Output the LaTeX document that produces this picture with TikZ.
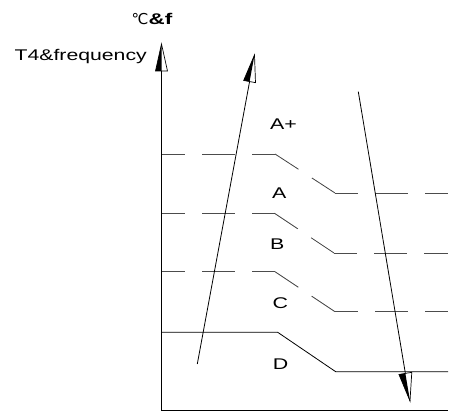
\documentclass[tikz,border=0pt]{standalone}
\usepackage{fontspec}
\setmainfont{Liberation Sans}
\newfontfamily\symfont{DejaVu Sans}
\usetikzlibrary{calc}
\begin{document}
\begin{tikzpicture}[x=1pt,y=-1pt,
  lbl/.style={inner sep=0pt, anchor=base west, font=\fontsize{15.5}{18}\selectfont},
  axisline/.style={line width=0.9pt},
  lvl/.style={line width=0.8pt, black!70, dash pattern=on 33pt off 17pt, dash phase=10pt},
  slantlvl/.style={line width=0.8pt, black!75, dash pattern=on 28pt off 16pt},
  solidlvl/.style={line width=0.8pt, black},
  arrline/.style={line width=0.8pt},
  headout/.style={draw=black, fill=white, line width=0.7pt, line join=miter},
  headfill/.style={fill=black}]
\useasboundingbox (0,0) rectangle (458,414);

% axes
\coordinate (O) at (161.5,410.5);
\coordinate (Ytip) at (161.5,44);
\coordinate (Xend) at (448,410.5);
\draw[axisline] (Ytip) -- (O) -- (Xend);
\coordinate (Ym) at ($(Ytip)!27pt!(O)$);
\coordinate (YL) at ($(Ym)!6pt!90:(Ytip)$);
\coordinate (YR) at ($(Ym)!6pt!-90:(Ytip)$);
\draw[headout] (Ytip) -- (YL) -- (YR) -- cycle;
\fill[headfill] (Ytip) -- (YL) -- (Ym) -- cycle;

% labels
\node[lbl, anchor=base east] (ylab) at (147,61) {\scalebox{1.37}[1]{T4\&frequency}};
\node[lbl] (toplab) at (131.5,25) {{\symfont\fontsize{15}{17}\selectfont ℃}\scalebox{1.45}[1]{\bfseries\&f}};

% level 1 (A+/A)
\coordinate (L1a) at (162,154);
\coordinate (L1b) at (275,154);
\coordinate (L1c) at (335,193);
\coordinate (L1d) at (448,193);
\draw[lvl] (L1a) -- (L1b);
\draw[slantlvl] (L1b) -- (L1c);
\draw[lvl] (L1c) -- (L1d);

% level 2 (A/B)
\coordinate (L2a) at (162,213.3);
\coordinate (L2b) at (274.5,213.3);
\coordinate (L2c) at (334,253);
\coordinate (L2d) at (448,253);
\draw[lvl] (L2a) -- (L2b);
\draw[slantlvl] (L2b) -- (L2c);
\draw[lvl] (L2c) -- (L2d);

% level 3 (B/C)
\coordinate (L3a) at (162,271.7);
\coordinate (L3b) at (275,271.7);
\coordinate (L3c) at (335,311.7);
\coordinate (L3d) at (448,311.7);
\draw[lvl] (L3a) -- (L3b);
\draw[slantlvl] (L3b) -- (L3c);
\draw[lvl] (L3c) -- (L3d);

% level 4 (C/D) solid
\coordinate (L4a) at (162,332.3);
\coordinate (L4b) at (277.7,332.3);
\coordinate (L4c) at (335.7,371.7);
\coordinate (L4d) at (448,371.7);
\draw[solidlvl] (L4a) -- (L4b) -- (L4c) -- (L4d);

% zone labels
\node[lbl] (Ap) at (270,130) {\scalebox{1.38}[1]{A+}};
\node[lbl] (A) at (272,198.3) {\scalebox{1.38}[1]{A}};
\node[lbl] (B) at (270,250) {\scalebox{1.38}[1]{B}};
\node[lbl] (C) at (272.3,308.3) {\scalebox{1.38}[1]{C}};
\node[lbl] (D) at (272.7,369.3) {\scalebox{1.38}[1]{D}};

% up arrow
\coordinate (U0) at (197.3,364);
\coordinate (U1) at (254.5,55);
\draw[arrline] (U0) -- (U1);
\coordinate (Um) at ($(U1)!27pt!(U0)$);
\coordinate (UL) at ($(Um)!6pt!90:(U1)$);
\coordinate (UR) at ($(Um)!6pt!-90:(U1)$);
\draw[headout] (U1) -- (UL) -- (UR) -- cycle;
\fill[headfill] (U1) -- (UL) -- (Um) -- cycle;

% down arrow
\coordinate (D0) at (358.3,91.7);
\coordinate (D1) at (410,401);
\draw[arrline] (D0) -- (D1);
\coordinate (Dm) at ($(D1)!28pt!(D0)$);
\coordinate (DL) at ($(Dm)!6.5pt!-90:(D1)$);
\coordinate (DR) at ($(Dm)!6.5pt!90:(D1)$);
\draw[headout] (D1) -- (DL) -- (DR) -- cycle;
\fill[headfill] (D1) -- (DL) -- (Dm) -- cycle;
\end{tikzpicture}
\end{document}
